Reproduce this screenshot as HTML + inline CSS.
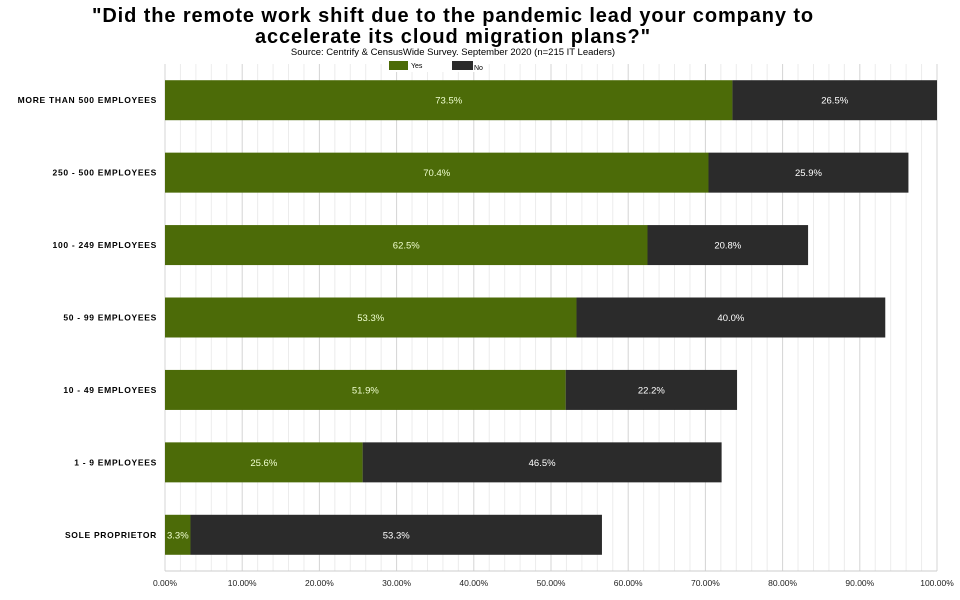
<!DOCTYPE html>
<html><head><meta charset="utf-8"><style>
body{margin:0;background:#fff;width:960px;height:595px;overflow:hidden;font-family:"Liberation Sans",sans-serif}
</style></head><body>
<svg width="960" height="595">
<text x="453" y="22" text-anchor="middle" font-size="20" font-weight="bold" letter-spacing="0.9">"Did the remote work shift due to the pandemic lead your company to</text>
<text x="453" y="43" text-anchor="middle" font-size="20" font-weight="bold" letter-spacing="0.9">accelerate its cloud migration plans?"</text>
<text x="453" y="55" text-anchor="middle" font-size="9.5">Source: Centrify &amp; CensusWide Survey. September 2020 (n=215 IT Leaders)</text>
<g id="grid"></g><g id="bars"></g><g id="labels"></g>
<g>
<rect x="386" y="59" width="100" height="13" fill="#fff"/>
<rect x="389" y="61" width="19" height="9" fill="#4c6b08"/>
<text x="411" y="68" font-size="7">Yes</text>
<rect x="452" y="61" width="21" height="9" fill="#2b2b2b"/>
<text x="474" y="70" font-size="7">No</text>
</g>
</svg>
<script>
const categories=["MORE THAN 500 EMPLOYEES","250 - 500 EMPLOYEES","100 - 249 EMPLOYEES","50 - 99 EMPLOYEES","10 - 49 EMPLOYEES","1 - 9 EMPLOYEES","SOLE PROPRIETOR"];
const yesValues=[73.5,70.4,62.5,53.3,51.9,25.6,3.3];
const noValues=[26.5,25.9,20.8,40.0,22.2,46.5,53.3];
const tickValues=[0,10,20,30,40,50,60,70,80,90,100];
const NS="http://www.w3.org/2000/svg";
const x0=165,x1=937,plotTop=64,plotBottom=571;
const xs=v=>x0+(x1-x0)*v/100;
const band=(plotBottom-plotTop)/categories.length;
const yc=i=>plotTop+band*(i+0.5);
function mk(t,a,p){const e=document.createElementNS(NS,t);for(const k in a)e.setAttribute(k,a[k]);p.appendChild(e);return e;}
const grid=document.getElementById('grid'),bars=document.getElementById('bars'),labels=document.getElementById('labels');
for(let v=0;v<=100;v+=2){
 const l=mk('line',{x1:xs(v),x2:xs(v),y1:plotTop,y2:plotBottom,stroke:v%10===0?'#d4d4d4':'#ececec','stroke-width':1},grid);
 
 
}
const ax=mk('line',{x1:x0,x2:x1,y1:plotBottom,y2:plotBottom,stroke:'#ccc'},grid);


tickValues.forEach(v=>{
 const t=mk('text',{x:xs(v),y:586,'text-anchor':'middle','font-size':8.5,fill:'#222'},labels);
 t.textContent=v.toFixed(2)+'%';
 
 
});
categories.forEach((c,i)=>{
 const y=yc(i),h=40;
 const t=mk('text',{x:157,y:y+3,'text-anchor':'end','font-size':8.5,'font-weight':'bold','letter-spacing':'0.7'},labels);
 t.textContent=c;
 
 
 const r1=mk('rect',{x:xs(0),y:y-h/2,width:xs(yesValues[i])-xs(0),height:h,fill:'#4c6b08'},bars);
 
 
 const r2=mk('rect',{x:xs(yesValues[i]),y:y-h/2,width:xs(yesValues[i]+noValues[i])-xs(yesValues[i]),height:h,fill:'#2b2b2b'},bars);
 
 
 const yx=yesValues[i]<8?xs(0)+2:(xs(0)+xs(yesValues[i]))/2;
 const l1=mk('text',{x:yx,y:y+3.5,'text-anchor':yesValues[i]<8?'start':'middle','font-size':9.5,fill:'#f0ffd0'},labels);
 l1.textContent=yesValues[i].toFixed(1)+'%';
 
 
 const l2=mk('text',{x:(xs(yesValues[i])+xs(yesValues[i]+noValues[i]))/2,y:y+3.5,'text-anchor':'middle','font-size':9.5,fill:'#fff'},labels);
 l2.textContent=noValues[i].toFixed(1)+'%';
 
 
});
</script>
</body></html>
